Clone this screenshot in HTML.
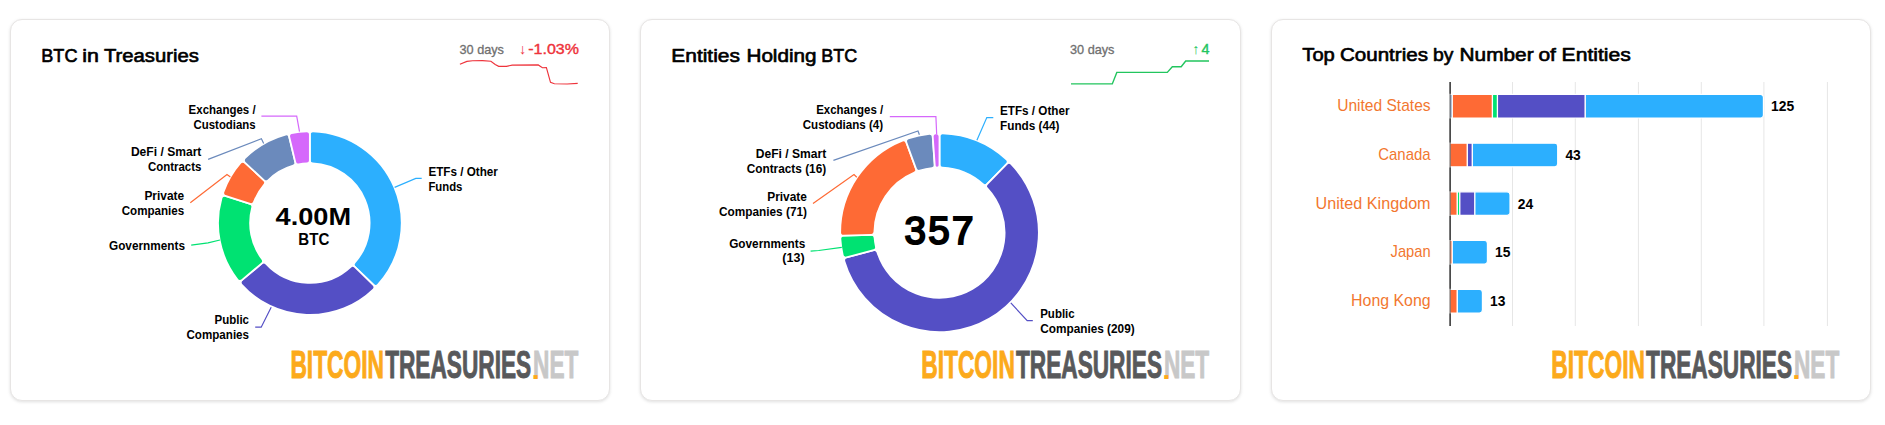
<!DOCTYPE html>
<html lang="en">
<head>
<meta charset="utf-8">
<title>Bitcoin Treasuries</title>
<style>
html,body{margin:0;padding:0;background:#fff;}
body{width:1885px;height:425px;position:relative;overflow:hidden;font-family:"Liberation Sans", sans-serif;}
.card{position:absolute;top:19px;height:382px;box-sizing:border-box;background:#fff;border:1px solid #e7e5e4;border-radius:12px;box-shadow:0 1px 3px rgba(0,0,0,.09),0 1px 5px rgba(0,0,0,.04);}
#c1{left:10px;width:600px;}
#c2{left:640px;width:601px;}
#c3{left:1271px;width:600px;}
svg{position:absolute;left:0;top:0;}
svg text{font-family:"Liberation Sans", sans-serif;white-space:pre;}
.ttl{stroke:#000;stroke-width:.65px;stroke-linejoin:round;}

</style>
</head>
<body>
<div class="card" id="c1"></div>
<div class="card" id="c2"></div>
<div class="card" id="c3"></div>
<svg width="1885" height="425" viewBox="0 0 1885 425">
<text class="ttl" y="61.6" font-size="18.80" fill="#000"><tspan x="41.31" textLength="36.15" lengthAdjust="spacingAndGlyphs">BTC</tspan> <tspan x="82.25" textLength="16.65" lengthAdjust="spacingAndGlyphs">in</tspan> <tspan x="103.94" textLength="94.91" lengthAdjust="spacingAndGlyphs">Treasuries</tspan></text>
<text x="459.5" y="54.0" font-size="12.70" font-weight="normal" fill="#6f6f6f" text-anchor="start" stroke="#6f6f6f" stroke-width="0.3">30 days</text>
<text x="522.7" y="53.6" font-size="14.40" font-weight="normal" fill="#ee333b" text-anchor="middle">↓</text>
<text x="578.9" y="53.7" font-size="14.20" font-weight="normal" fill="#ee333b" text-anchor="end" textLength="50.6" lengthAdjust="spacingAndGlyphs" stroke="#ee333b" stroke-width="0.4">-1.03%</text>
<path d="M459.9 64.2 L466.9 61.4 L472.6 60.8 L482.5 60.7 L490.9 61.2 L495.2 64.4 L498.7 66.3 L506.4 66.3 L512.1 65.1 L538.2 64.9 L542.4 67.7 L546.4 67.5 L550.5 82.3 L554.4 83.7 L567.1 84.0 L577.7 83.4" fill="none" stroke="#ee333b" stroke-width="1.15"/>
<path d="M309.85 134.30 A3.00 3.00 0 0 1 312.95 131.30 A91.85 91.85 0 0 1 377.82 284.87 A3.00 3.00 0 0 1 373.51 285.01 L354.78 266.80 A3.00 3.00 0 0 1 354.63 262.66 A59.75 59.75 0 0 0 312.71 163.42 A3.00 3.00 0 0 1 309.85 160.42 Z" fill="#2caffe" stroke="#fff" stroke-width="1.80" stroke-linejoin="round"/>
<path d="M373.51 285.01 A3.00 3.00 0 0 1 373.50 289.32 A91.85 91.85 0 0 1 241.52 284.48 A3.00 3.00 0 0 1 241.83 280.18 L261.84 263.39 A3.00 3.00 0 0 1 265.97 263.65 A59.75 59.75 0 0 0 350.64 266.76 A3.00 3.00 0 0 1 354.78 266.80 Z" fill="#544fc5" stroke="#fff" stroke-width="1.80" stroke-linejoin="round"/>
<path d="M241.83 280.18 A3.00 3.00 0 0 1 237.54 279.73 A91.85 91.85 0 0 1 221.52 197.91 A3.00 3.00 0 0 1 225.33 195.88 L250.19 203.89 A3.00 3.00 0 0 1 252.17 207.53 A59.75 59.75 0 0 0 262.30 259.27 A3.00 3.00 0 0 1 261.84 263.39 Z" fill="#00e272" stroke="#fff" stroke-width="1.80" stroke-linejoin="round"/>
<path d="M225.33 195.88 A3.00 3.00 0 0 1 223.42 192.01 A91.85 91.85 0 0 1 240.60 162.76 A3.00 3.00 0 0 1 244.91 162.54 L264.01 180.35 A3.00 3.00 0 0 1 264.25 184.49 A59.75 59.75 0 0 0 253.92 202.09 A3.00 3.00 0 0 1 250.19 203.89 Z" fill="#fe6a35" stroke="#fff" stroke-width="1.80" stroke-linejoin="round"/>
<path d="M244.91 162.54 A3.00 3.00 0 0 1 244.83 158.23 A91.85 91.85 0 0 1 285.48 134.54 A3.00 3.00 0 0 1 289.20 136.74 L295.27 162.14 A3.00 3.00 0 0 1 293.19 165.72 A59.75 59.75 0 0 0 268.15 180.31 A3.00 3.00 0 0 1 264.01 180.35 Z" fill="#6b8abc" stroke="#fff" stroke-width="1.80" stroke-linejoin="round"/>
<path d="M289.20 136.74 A3.00 3.00 0 0 1 291.51 133.10 A91.85 91.85 0 0 1 306.75 131.30 A3.00 3.00 0 0 1 309.85 134.30 L309.85 160.42 A3.00 3.00 0 0 1 306.99 163.42 A59.75 59.75 0 0 0 298.75 164.39 A3.00 3.00 0 0 1 295.27 162.14 Z" fill="#d568fb" stroke="#fff" stroke-width="1.80" stroke-linejoin="round"/>
<text x="255.6" y="113.9" font-size="11.90" font-weight="bold" fill="#000" text-anchor="end" textLength="67.0" lengthAdjust="spacingAndGlyphs">Exchanges /</text>
<text x="255.6" y="128.9" font-size="11.90" font-weight="bold" fill="#000" text-anchor="end" textLength="62.0" lengthAdjust="spacingAndGlyphs">Custodians</text>
<path d="M261.4 116.2 L296.7 116.2 L299.5 131.7" fill="none" stroke="#d568fb" stroke-width="1.2"/>
<text x="201.4" y="156.2" font-size="11.90" font-weight="bold" fill="#000" text-anchor="end" textLength="70.5" lengthAdjust="spacingAndGlyphs">DeFi / Smart</text>
<text x="201.4" y="171.2" font-size="11.90" font-weight="bold" fill="#000" text-anchor="end" textLength="53.5" lengthAdjust="spacingAndGlyphs">Contracts</text>
<path d="M208.1 159.4 L261.4 138.7 L263.7 143.5" fill="none" stroke="#6b8abc" stroke-width="1.2"/>
<text x="184.2" y="199.8" font-size="11.90" font-weight="bold" fill="#000" text-anchor="end" textLength="39.8" lengthAdjust="spacingAndGlyphs">Private</text>
<text x="184.2" y="214.8" font-size="11.90" font-weight="bold" fill="#000" text-anchor="end" textLength="62.5" lengthAdjust="spacingAndGlyphs">Companies</text>
<path d="M190.3 202.8 L227.0 174.6 L230.4 176.9" fill="none" stroke="#fe6a35" stroke-width="1.2"/>
<text x="185.0" y="250.0" font-size="11.90" font-weight="bold" fill="#000" text-anchor="end" textLength="76.0" lengthAdjust="spacingAndGlyphs">Governments</text>
<path d="M191.2 245.2 L208.0 242.8 L220.0 240.0" fill="none" stroke="#00e272" stroke-width="1.2"/>
<text x="249.0" y="324.0" font-size="11.90" font-weight="bold" fill="#000" text-anchor="end" textLength="34.5" lengthAdjust="spacingAndGlyphs">Public</text>
<text x="249.0" y="339.0" font-size="11.90" font-weight="bold" fill="#000" text-anchor="end" textLength="62.5" lengthAdjust="spacingAndGlyphs">Companies</text>
<path d="M255.2 327.2 L261.2 327.2 L271.2 307.2" fill="none" stroke="#544fc5" stroke-width="1.2"/>
<text x="428.4" y="175.8" font-size="11.90" font-weight="bold" fill="#000" text-anchor="start" textLength="69.5" lengthAdjust="spacingAndGlyphs">ETFs / Other</text>
<text x="428.4" y="190.8" font-size="11.90" font-weight="bold" fill="#000" text-anchor="start" textLength="34.0" lengthAdjust="spacingAndGlyphs">Funds</text>
<path d="M421.7 178.4 L415.8 178.4 L394.6 187.4" fill="none" stroke="#2caffe" stroke-width="1.2"/>
<text x="313.3" y="224.5" font-size="24.70" font-weight="bold" fill="#000" text-anchor="middle" textLength="75.5" lengthAdjust="spacingAndGlyphs">4.00M</text>
<text x="313.8" y="245.0" font-size="15.80" font-weight="bold" fill="#000" text-anchor="middle" textLength="31.0" lengthAdjust="spacingAndGlyphs">BTC</text>
<g class="logo" font-weight="bold" font-size="38.5">
<g transform="translate(290.40 378.30) scale(0.5920 1)"><text x="0" y="0" fill="#fcaa1b" stroke="#fcaa1b" stroke-width="0.80" vector-effect="non-scaling-stroke" stroke-linejoin="miter">BITCOIN</text></g>
<g transform="translate(385.15 378.30) scale(0.5888 1)"><text x="0" y="0" fill="#58595b" stroke="#58595b" stroke-width="0.80" vector-effect="non-scaling-stroke" stroke-linejoin="miter">TREASURIES</text></g>
<g transform="translate(533.10 378.30) scale(0.5883 1)"><text x="0" y="0" fill="#c8c8c8" stroke="#c8c8c8" stroke-width="0.80" vector-effect="non-scaling-stroke" stroke-linejoin="miter">NET</text></g>
<g transform="translate(531.45 378.70) scale(0.78 0.66)"><text x="0" y="0" fill="#fcaa1b">.</text></g>
</g>
<text class="ttl" y="61.6" font-size="18.90" fill="#000"><tspan x="671.29" textLength="68.64" lengthAdjust="spacingAndGlyphs">Entities</tspan> <tspan x="746.49" textLength="69.99" lengthAdjust="spacingAndGlyphs">Holding</tspan> <tspan x="821.36" textLength="35.88" lengthAdjust="spacingAndGlyphs">BTC</tspan></text>
<text x="1070.0" y="54.0" font-size="12.70" font-weight="normal" fill="#6f6f6f" text-anchor="start" stroke="#6f6f6f" stroke-width="0.3">30 days</text>
<text x="1195.8" y="53.6" font-size="14.40" font-weight="normal" fill="#22c55e" text-anchor="middle">↑</text>
<text x="1209.4" y="53.7" font-size="14.40" font-weight="normal" fill="#22c55e" text-anchor="end" stroke="#22c55e" stroke-width="0.4">4</text>
<path d="M1071.0 83.9 L1112.3 83.9 L1116.8 72.4 L1167.3 72.4 L1172.3 66.8 L1181.2 66.8 L1185.7 61.0 L1209.0 61.0" fill="none" stroke="#22c55e" stroke-width="1.4"/>
<path d="M939.50 136.40 A3.00 3.00 0 0 1 942.59 133.40 A99.35 99.35 0 0 1 1006.73 159.55 A3.00 3.00 0 0 1 1006.84 163.86 L987.08 184.07 A3.00 3.00 0 0 1 982.93 184.20 A65.10 65.10 0 0 0 942.37 167.66 A3.00 3.00 0 0 1 939.50 164.67 Z" fill="#2caffe" stroke="#fff" stroke-width="1.80" stroke-linejoin="round"/>
<path d="M1006.84 163.86 A3.00 3.00 0 0 1 1011.15 163.88 A99.35 99.35 0 1 1 844.32 261.18 A3.00 3.00 0 0 1 846.42 257.42 L873.75 250.16 A3.00 3.00 0 0 1 877.38 252.17 A65.10 65.10 0 1 0 987.03 188.21 A3.00 3.00 0 0 1 987.08 184.07 Z" fill="#544fc5" stroke="#fff" stroke-width="1.80" stroke-linejoin="round"/>
<path d="M846.42 257.42 A3.00 3.00 0 0 1 842.73 255.20 A99.35 99.35 0 0 1 840.34 238.85 A3.00 3.00 0 0 1 843.24 235.67 L871.50 234.80 A3.00 3.00 0 0 1 874.58 237.57 A65.10 65.10 0 0 0 875.91 246.62 A3.00 3.00 0 0 1 873.75 250.16 Z" fill="#00e272" stroke="#fff" stroke-width="1.80" stroke-linejoin="round"/>
<path d="M843.24 235.67 A3.00 3.00 0 0 1 840.15 232.67 A99.35 99.35 0 0 1 902.36 140.55 A3.00 3.00 0 0 1 906.30 142.30 L916.04 168.84 A3.00 3.00 0 0 1 914.38 172.64 A65.10 65.10 0 0 0 874.41 231.84 A3.00 3.00 0 0 1 871.50 234.80 Z" fill="#fe6a35" stroke="#fff" stroke-width="1.80" stroke-linejoin="round"/>
<path d="M906.30 142.30 A3.00 3.00 0 0 1 908.17 138.42 A99.35 99.35 0 0 1 929.43 133.86 A3.00 3.00 0 0 1 932.73 136.64 L934.71 164.83 A3.00 3.00 0 0 1 932.06 168.03 A65.10 65.10 0 0 0 919.77 170.66 A3.00 3.00 0 0 1 916.04 168.84 Z" fill="#6b8abc" stroke="#fff" stroke-width="1.80" stroke-linejoin="round"/>
<path d="M932.73 136.64 A3.00 3.00 0 0 1 935.60 133.43 A99.35 99.35 0 0 1 936.41 133.40 A3.00 3.00 0 0 1 939.50 136.40 L939.50 165.29 A2.35 2.35 0 0 1 937.23 167.64 A65.10 65.10 0 0 0 937.18 167.64 A2.35 2.35 0 0 1 934.76 165.46 Z" fill="#d568fb" stroke="#fff" stroke-width="1.80" stroke-linejoin="round"/>
<text x="883.2" y="113.9" font-size="11.90" font-weight="bold" fill="#000" text-anchor="end" textLength="67.0" lengthAdjust="spacingAndGlyphs">Exchanges /</text>
<text x="883.2" y="128.9" font-size="11.90" font-weight="bold" fill="#000" text-anchor="end" textLength="80.5" lengthAdjust="spacingAndGlyphs">Custodians (4)</text>
<path d="M889.8 116.7 L935.9 116.7 L936.7 134.5" fill="none" stroke="#d568fb" stroke-width="1.2"/>
<text x="826.2" y="158.0" font-size="11.90" font-weight="bold" fill="#000" text-anchor="end" textLength="70.5" lengthAdjust="spacingAndGlyphs">DeFi / Smart</text>
<text x="826.2" y="173.0" font-size="11.90" font-weight="bold" fill="#000" text-anchor="end" textLength="79.5" lengthAdjust="spacingAndGlyphs">Contracts (16)</text>
<path d="M833.4 160.4 L918.0 131.0 L919.4 134.8" fill="none" stroke="#6b8abc" stroke-width="1.2"/>
<text x="807.0" y="200.8" font-size="11.90" font-weight="bold" fill="#000" text-anchor="end" textLength="39.8" lengthAdjust="spacingAndGlyphs">Private</text>
<text x="807.0" y="215.8" font-size="11.90" font-weight="bold" fill="#000" text-anchor="end" textLength="88.0" lengthAdjust="spacingAndGlyphs">Companies (71)</text>
<path d="M813.0 203.6 L854.0 174.5 L856.8 177.2" fill="none" stroke="#fe6a35" stroke-width="1.2"/>
<text x="805.2" y="247.8" font-size="11.90" font-weight="bold" fill="#000" text-anchor="end" textLength="76.0" lengthAdjust="spacingAndGlyphs">Governments</text>
<text x="804.6" y="261.9" font-size="11.90" font-weight="bold" fill="#000" text-anchor="end" textLength="22.3" lengthAdjust="spacingAndGlyphs">(13)</text>
<path d="M810.6 251.2 L818.7 250.5 L841.8 247.3" fill="none" stroke="#00e272" stroke-width="1.2"/>
<text x="1000.0" y="114.8" font-size="11.90" font-weight="bold" fill="#000" text-anchor="start" textLength="69.5" lengthAdjust="spacingAndGlyphs">ETFs / Other</text>
<text x="1000.0" y="129.8" font-size="11.90" font-weight="bold" fill="#000" text-anchor="start" textLength="59.5" lengthAdjust="spacingAndGlyphs">Funds (44)</text>
<path d="M993.3 117.6 L986.8 117.6 L976.9 140.2" fill="none" stroke="#2caffe" stroke-width="1.2"/>
<text x="1040.2" y="317.6" font-size="11.90" font-weight="bold" fill="#000" text-anchor="start" textLength="34.5" lengthAdjust="spacingAndGlyphs">Public</text>
<text x="1040.2" y="332.6" font-size="11.90" font-weight="bold" fill="#000" text-anchor="start" textLength="94.5" lengthAdjust="spacingAndGlyphs">Companies (209)</text>
<path d="M1032.8 320.7 L1027.2 320.7 L1010.8 302.9" fill="none" stroke="#544fc5" stroke-width="1.2"/>
<text x="940.1" y="244.0" font-size="38.60" font-weight="normal" fill="#000" text-anchor="middle" stroke="#000" stroke-width="2.0" stroke-linejoin="miter" letter-spacing="2.3">357</text>
<g class="logo" font-weight="bold" font-size="38.5">
<g transform="translate(921.20 378.30) scale(0.5920 1)"><text x="0" y="0" fill="#fcaa1b" stroke="#fcaa1b" stroke-width="0.80" vector-effect="non-scaling-stroke" stroke-linejoin="miter">BITCOIN</text></g>
<g transform="translate(1015.95 378.30) scale(0.5888 1)"><text x="0" y="0" fill="#58595b" stroke="#58595b" stroke-width="0.80" vector-effect="non-scaling-stroke" stroke-linejoin="miter">TREASURIES</text></g>
<g transform="translate(1163.90 378.30) scale(0.5883 1)"><text x="0" y="0" fill="#c8c8c8" stroke="#c8c8c8" stroke-width="0.80" vector-effect="non-scaling-stroke" stroke-linejoin="miter">NET</text></g>
<g transform="translate(1162.25 378.70) scale(0.78 0.66)"><text x="0" y="0" fill="#fcaa1b">.</text></g>
</g>
<text class="ttl" y="61.0" font-size="18.90" fill="#000"><tspan x="1302.38" textLength="32.44" lengthAdjust="spacingAndGlyphs">Top</tspan> <tspan x="1340.00" textLength="87.92" lengthAdjust="spacingAndGlyphs">Countries</tspan> <tspan x="1433.03" textLength="20.43" lengthAdjust="spacingAndGlyphs">by</tspan> <tspan x="1459.60" textLength="74.02" lengthAdjust="spacingAndGlyphs">Number</tspan> <tspan x="1538.41" textLength="17.51" lengthAdjust="spacingAndGlyphs">of</tspan> <tspan x="1561.59" textLength="69.19" lengthAdjust="spacingAndGlyphs">Entities</tspan></text>
<path d="M1512.5 82 V326" stroke="#e6e6e6" stroke-width="1"/>
<path d="M1575.3 82 V326" stroke="#e6e6e6" stroke-width="1"/>
<path d="M1638.4 82 V326" stroke="#e6e6e6" stroke-width="1"/>
<path d="M1701.3 82 V326" stroke="#e6e6e6" stroke-width="1"/>
<path d="M1763.9 82 V326" stroke="#e6e6e6" stroke-width="1"/>
<path d="M1827.4 82 V326" stroke="#e6e6e6" stroke-width="1"/>
<path d="M1450.2 82 V326" stroke="#4a4a4a" stroke-width="1.6"/>
<text x="1430.6" y="111.1" font-size="15.90" font-weight="normal" fill="#f2772f" text-anchor="end" textLength="93.4" lengthAdjust="spacingAndGlyphs">United States</text>
<path d="M1449.80 94.40 H1452.31 V118.00 H1449.80 Z" fill="#6b8abc" stroke="#fff" stroke-width="1.2"/>
<path d="M1452.31 94.40 H1492.45 V118.00 H1452.31 Z" fill="#fe6a35" stroke="#fff" stroke-width="1.2"/>
<path d="M1492.45 94.40 H1497.47 V118.00 H1492.45 Z" fill="#00e272" stroke="#fff" stroke-width="1.2"/>
<path d="M1497.47 94.40 H1585.29 V118.00 H1497.47 Z" fill="#544fc5" stroke="#fff" stroke-width="1.2"/>
<path d="M1585.29 94.40 H1760.42 A3 3 0 0 1 1763.42 97.40 V115.00 A3 3 0 0 1 1760.42 118.00 H1585.29 Z" fill="#2caffe" stroke="#fff" stroke-width="1.2"/>
<text x="1771.1" y="111.1" font-size="14.00" font-weight="bold" fill="#000" text-anchor="start" textLength="23.1" lengthAdjust="spacingAndGlyphs">125</text>
<text x="1430.6" y="159.9" font-size="15.90" font-weight="normal" fill="#f2772f" text-anchor="end" textLength="52.4" lengthAdjust="spacingAndGlyphs">Canada</text>
<path d="M1449.80 143.20 H1467.36 V166.80 H1449.80 Z" fill="#fe6a35" stroke="#fff" stroke-width="1.2"/>
<path d="M1467.36 143.20 H1472.38 V166.80 H1467.36 Z" fill="#544fc5" stroke="#fff" stroke-width="1.2"/>
<path d="M1472.38 143.20 H1554.69 A3 3 0 0 1 1557.69 146.20 V163.80 A3 3 0 0 1 1554.69 166.80 H1472.38 Z" fill="#2caffe" stroke="#fff" stroke-width="1.2"/>
<text x="1565.4" y="159.9" font-size="14.00" font-weight="bold" fill="#000" text-anchor="start" textLength="15.4" lengthAdjust="spacingAndGlyphs">43</text>
<text x="1430.6" y="208.5" font-size="15.90" font-weight="normal" fill="#f2772f" text-anchor="end" textLength="115.0" lengthAdjust="spacingAndGlyphs">United Kingdom</text>
<path d="M1449.80 191.80 H1457.33 V215.40 H1449.80 Z" fill="#fe6a35" stroke="#fff" stroke-width="1.2"/>
<path d="M1457.33 191.80 H1459.84 V215.40 H1457.33 Z" fill="#00e272" stroke="#fff" stroke-width="1.2"/>
<path d="M1459.84 191.80 H1474.89 V215.40 H1459.84 Z" fill="#544fc5" stroke="#fff" stroke-width="1.2"/>
<path d="M1474.89 191.80 H1507.02 A3 3 0 0 1 1510.02 194.80 V212.40 A3 3 0 0 1 1507.02 215.40 H1474.89 Z" fill="#2caffe" stroke="#fff" stroke-width="1.2"/>
<text x="1517.7" y="208.5" font-size="14.00" font-weight="bold" fill="#000" text-anchor="start" textLength="15.4" lengthAdjust="spacingAndGlyphs">24</text>
<text x="1430.6" y="257.2" font-size="15.90" font-weight="normal" fill="#f2772f" text-anchor="end" textLength="40.0" lengthAdjust="spacingAndGlyphs">Japan</text>
<path d="M1449.80 240.50 H1452.31 V264.10 H1449.80 Z" fill="#fe6a35" stroke="#fff" stroke-width="1.2"/>
<path d="M1452.31 240.50 H1484.43 A3 3 0 0 1 1487.43 243.50 V261.10 A3 3 0 0 1 1484.43 264.10 H1452.31 Z" fill="#2caffe" stroke="#fff" stroke-width="1.2"/>
<text x="1495.1" y="257.2" font-size="14.00" font-weight="bold" fill="#000" text-anchor="start" textLength="15.4" lengthAdjust="spacingAndGlyphs">15</text>
<text x="1430.6" y="306.1" font-size="15.90" font-weight="normal" fill="#f2772f" text-anchor="end" textLength="79.5" lengthAdjust="spacingAndGlyphs">Hong Kong</text>
<path d="M1449.80 289.40 H1457.33 V313.00 H1449.80 Z" fill="#fe6a35" stroke="#fff" stroke-width="1.2"/>
<path d="M1457.33 289.40 H1479.42 A3 3 0 0 1 1482.42 292.40 V310.00 A3 3 0 0 1 1479.42 313.00 H1457.33 Z" fill="#2caffe" stroke="#fff" stroke-width="1.2"/>
<text x="1490.1" y="306.1" font-size="14.00" font-weight="bold" fill="#000" text-anchor="start" textLength="15.4" lengthAdjust="spacingAndGlyphs">13</text>
<path d="M1450.2 82 V326" stroke="#4a4a4a" stroke-width="1.6" opacity="0.55"/>
<g class="logo" font-weight="bold" font-size="38.5">
<g transform="translate(1551.30 378.30) scale(0.5920 1)"><text x="0" y="0" fill="#fcaa1b" stroke="#fcaa1b" stroke-width="0.80" vector-effect="non-scaling-stroke" stroke-linejoin="miter">BITCOIN</text></g>
<g transform="translate(1646.05 378.30) scale(0.5888 1)"><text x="0" y="0" fill="#58595b" stroke="#58595b" stroke-width="0.80" vector-effect="non-scaling-stroke" stroke-linejoin="miter">TREASURIES</text></g>
<g transform="translate(1794.00 378.30) scale(0.5883 1)"><text x="0" y="0" fill="#c8c8c8" stroke="#c8c8c8" stroke-width="0.80" vector-effect="non-scaling-stroke" stroke-linejoin="miter">NET</text></g>
<g transform="translate(1792.35 378.70) scale(0.78 0.66)"><text x="0" y="0" fill="#fcaa1b">.</text></g>
</g>
</svg>
</body>
</html>
